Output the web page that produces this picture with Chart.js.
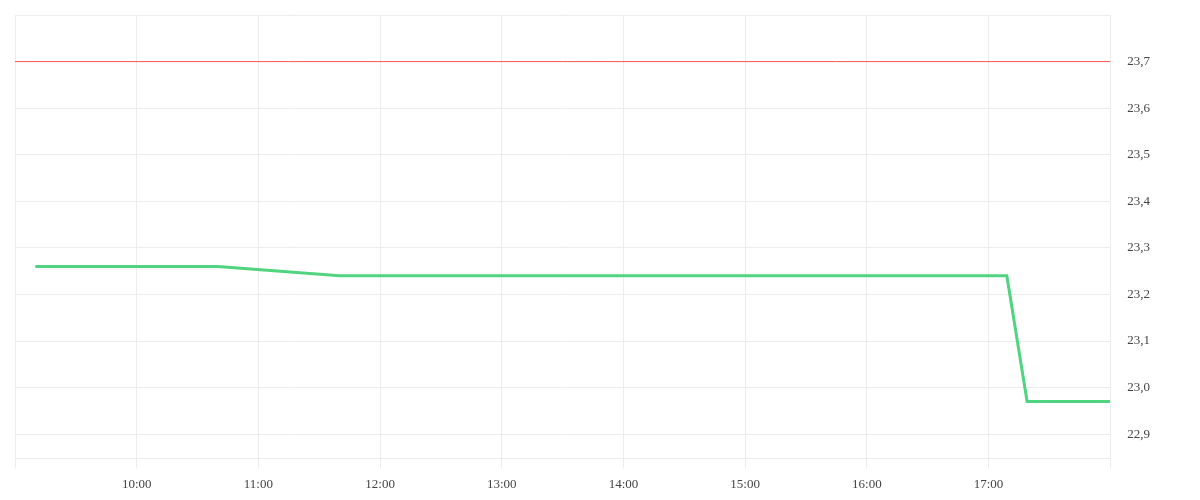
<!DOCTYPE html>
<html>
<head>
<meta charset="utf-8">
<script src="https://cdn.jsdelivr.net/npm/chart.js@4"></script>
<style>
  html, body { margin: 0; padding: 0; background: #fff; }
  #wrap { width: 1200px; height: 500px; }
</style>
</head>
<body>
<div id="wrap"><canvas id="myChart"></canvas></div>
<script>
// times in hours of the day
let times = [9.1667, 10.6667, 11.6667, 17.15, 17.3167, 18.0];
let temps = [23.26, 23.26, 23.24, 23.24, 22.97, 22.97];

let limitTimes = [9, 18];
let limitValue = [23.7, 23.7];

let hourTicks = [9, 10, 11, 12, 13, 14, 15, 16, 17, 18];

function fmtHour(v) {
  let h = Math.round(v);
  return (h < 10 ? "0" + h : "" + h) + ":00";
}

new Chart("myChart", {
  type: "line",
  data: {
    datasets: [
      {
        data: times.map((t, i) => ({ x: t, y: temps[i] })),
        borderColor: "rgb(80, 212, 128)",
        borderWidth: 3,
        pointRadius: 0,
        tension: 0,
        fill: false,
      },
      {
        data: limitTimes.map((t, i) => ({ x: t, y: limitValue[i] })),
        borderColor: "rgb(255, 85, 85)",
        borderWidth: 1,
        pointRadius: 0,
        fill: false,
      },
    ],
  },
  options: {
    responsive: true,
    maintainAspectRatio: false,
    animation: false,
    layout: { padding: { left: 15, top: 15, right: 33, bottom: 0 } },
    plugins: { legend: { display: false }, tooltip: { enabled: false } },
    scales: {
      x: {
        type: "linear",
        min: 9,
        max: 18,
        afterBuildTicks: (axis) => {
          axis.ticks = hourTicks.map((v) => ({ value: v }));
        },
        grid: { color: "#ececec", tickLength: 10 },
        border: { color: "#ececec" },
        ticks: {
          color: "#444",
          padding: 8,
          font: { family: "Liberation Serif", size: 13 },
          maxRotation: 0,
          callback: (v) => (v === 9 || v === 18 ? "" : fmtHour(v)),
        },
      },
      y: {
        position: "right",
        min: 22.848,
        max: 23.8,
        afterBuildTicks: (axis) => {
          let t = [];
          for (let i = 228; i <= 238; i++) t.push({ value: i / 10 });
          t = t.filter((x) => x.value >= 22.848);
          t.unshift({ value: 22.848 });
          axis.ticks = t;
        },
        afterFit: (axis) => {
          axis.paddingTop = 0;
          axis.paddingBottom = 0;
        },
        grid: { color: "#ececec", drawTicks: false },
        border: { color: "#ececec" },
        ticks: {
          color: "#444",
          padding: 17,
          font: { family: "Liberation Serif", size: 13 },
          callback: (v) =>
            v < 22.85 || v > 23.75 ? "" : v.toFixed(1).replace(".", ","),
        },
      },
    },
  },
});
</script>
</body>
</html>
